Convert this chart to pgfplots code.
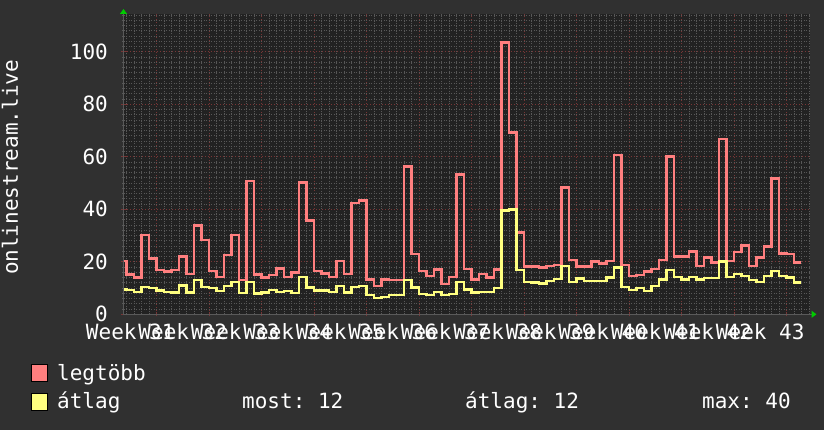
\documentclass[border=0pt]{standalone}
\usepackage{fontspec}
\setmainfont{DejaVu Sans Mono}
\usepackage{pgfplots}
\pgfplotsset{compat=1.18}
\usetikzlibrary{arrows.meta}
\definecolor{bgout}{HTML}{303030}
\definecolor{canvas}{HTML}{222222}
\definecolor{mgrid}{HTML}{783636}
\definecolor{ngrid}{HTML}{585858}
\definecolor{axisgray}{HTML}{5A5A5A}
\definecolor{redline}{HTML}{FF7F7F}
\definecolor{yelline}{HTML}{FFFF80}
\definecolor{arrowgreen}{HTML}{00CC00}
\newcommand{\bigfont}{\fontsize{21bp}{25bp}\selectfont}
\frenchspacing
\begin{document}
\frenchspacing
\begin{tikzpicture}[font=\bigfont]
\useasboundingbox (0,0) rectangle (824bp,430bp);
\fill[bgout] (0,0) rectangle (824bp,430bp);
\begin{axis}[
  at={(123.5bp,115.7bp)}, anchor=south west,
  scale only axis, width=686bp, height=300.3bp,
  xmin=-4.4, xmax=87.07, ymin=0, ymax=114.4,
  axis background/.style={fill=canvas},
  axis x line=bottom, axis y line=left,
  x axis line style={draw=axisgray, line width=1bp, -{Triangle[length=5bp,width=7bp,color=arrowgreen]}, shorten >=-7bp},
  y axis line style={draw=axisgray, line width=1bp, -{Triangle[length=5bp,width=7bp,color=arrowgreen]}, shorten >=-5bp},
  xtick={0,7,...,84}, xticklabels={},
  minor xtick={-4,-3,-2,-1,1,2,3,4,5,6,8,9,10,11,12,13,15,16,17,18,19,20,22,23,24,25,26,27,29,30,31,32,33,34,36,37,38,39,40,41,43,44,45,46,47,48,50,51,52,53,54,55,57,58,59,60,61,62,64,65,66,67,68,69,71,72,73,74,75,76,78,79,80,81,82,83,85,86,87},
  ytick={0,20,...,100},
  minor ytick={2,4,6,8,10,12,14,16,18,22,24,26,28,30,32,34,36,38,42,44,46,48,50,52,54,56,58,62,64,66,68,70,72,74,76,78,82,84,86,88,90,92,94,96,98,102,104,106,108,110,112,114},
  grid=both,
  major grid style={draw=mgrid, dash pattern=on 1.5bp off 1.5bp, line width=0.9bp},
  minor grid style={draw=ngrid, dash pattern=on 1bp off 1.5bp, line width=0.8bp},
  tick align=center, major tick length=4bp, minor tick length=2bp,
  major tick style={draw=mgrid, line width=0.9bp},
  minor tick style={draw=ngrid, line width=0.8bp},
  /pgf/number format/assume math mode=true,
  yticklabel style={font=\bigfont, text=white, inner sep=0pt, anchor=east, xshift=-13.5bp},
  extra x ticks={-3.5,3.5,10.5,17.5,24.5,31.5,38.5,45.5,52.5,59.5,66.5,73.5,80.5},
  extra x tick labels={Week 31,Week 32,Week 33,Week 34,Week 35,Week 36,Week 37,Week 38,Week 39,Week 40,Week 41,Week 42,Week 43},
  extra x tick style={grid=none, major tick length=0pt, tick style={draw=none},
    xticklabel style={font=\bigfont, text=white, inner sep=0pt, anchor=north, yshift=-9.5bp}},
]
\addplot[const plot, draw=redline, line width=2.3bp] coordinates {
(-4.35,20.3) (-4,15.2) (-3,14.0) (-2,30.2) (-1,21.3) (0,16.9) (1,16.3) (2,16.9) (3,22.0) (4,15.4)
(5,33.8) (6,28.3) (7,16.5) (8,14.3) (9,22.6) (10,30.2) (11,13.1) (12,50.9) (13,15.2) (14,14.0)
(15,15.0) (16,17.4) (17,14.2) (18,15.9) (19,50.2) (20,35.7) (21,16.6) (22,15.5) (23,14.2) (24,20.2)
(25,15.4) (26,42.5) (27,43.3) (28,13.3) (29,10.8) (30,13.3) (31,13.1) (32,13.1) (33,56.3) (34,23.0)
(35,16.6) (36,14.6) (37,17.1) (38,11.6) (39,14.3) (40,53.3) (41,17.3) (42,13.3) (43,15.4) (44,14.0)
(45,17.1) (46,103.5) (47,69.2) (48,31.2) (49,18.2) (50,18.2) (51,17.8) (52,18.5) (53,18.9) (54,48.3)
(55,20.7) (56,18.2) (57,18.2) (58,20.1) (59,19.4) (60,20.4) (61,60.8) (62,18.8) (63,14.6) (64,15.0)
(65,16.3) (66,17.3) (67,20.7) (68,60.1) (69,22.0) (70,22.0) (71,23.9) (72,18.4) (73,21.6) (74,19.7)
(75,66.7) (76,20.4) (77,23.6) (78,26.2) (79,18.4) (80,21.6) (81,25.8) (82,51.7) (83,23.2) (84,22.9)
(85,19.7) (86,19.7)};
\addplot[const plot, draw=yelline, line width=2.3bp] coordinates {
(-4.35,9.5) (-4,9.3) (-3,8.4) (-2,10.5) (-1,9.9) (0,9.1) (1,8.6) (2,8.3) (3,11.0) (4,8.3)
(5,13.1) (6,10.5) (7,9.9) (8,9.0) (9,10.9) (10,12.2) (11,8.0) (12,12.3) (13,7.9) (14,8.3)
(15,9.3) (16,8.6) (17,9.0) (18,8.1) (19,14.3) (20,10.2) (21,9.1) (22,9.1) (23,8.5) (24,10.9)
(25,8.3) (26,10.5) (27,10.9) (28,7.4) (29,6.1) (30,6.7) (31,7.4) (32,7.4) (33,13.1) (34,10.2)
(35,7.7) (36,7.4) (37,8.6) (38,7.4) (39,7.7) (40,12.2) (41,9.5) (42,8.3) (43,8.6) (44,8.6)
(45,9.9) (46,39.5) (47,39.9) (48,16.9) (49,12.4) (50,12.1) (51,11.7) (52,12.6) (53,13.5) (54,18.5)
(55,12.4) (56,13.6) (57,12.8) (58,12.8) (59,12.8) (60,14.0) (61,17.8) (62,10.5) (63,9.3) (64,9.9)
(65,9.0) (66,10.9) (67,13.3) (68,16.9) (69,14.3) (70,13.3) (71,14.3) (72,13.3) (73,13.7) (74,13.7)
(75,20.1) (76,14.3) (77,15.4) (78,14.6) (79,13.1) (80,12.4) (81,14.7) (82,16.6) (83,14.6) (84,14.0)
(85,12.1) (86,12.1)};
\end{axis}
\node[rotate=90, text=white, inner sep=0pt, anchor=center] at (10bp,262.5bp) {onlinestream.live};
\draw[black, line width=1bp, fill=redline] (31bp,48bp) rectangle (47bp,65bp);
\draw[black, line width=1bp, fill=yelline] (31bp,19bp) rectangle (47bp,36bp);
\node[anchor=base west, inner sep=0pt, text=white] at (57bp,49.3bp) {legtöbb};
\node[anchor=base west, inner sep=0pt, text=white] at (57bp,21.7bp) {átlag};
\node[anchor=base west, inner sep=0pt, text=white] at (242bp,21.7bp) {most: 12};
\node[anchor=base west, inner sep=0pt, text=white] at (465bp,21.7bp) {átlag: 12};
\node[anchor=base west, inner sep=0pt, text=white] at (702bp,21.7bp) {max: 40};
\end{tikzpicture}
\end{document}
